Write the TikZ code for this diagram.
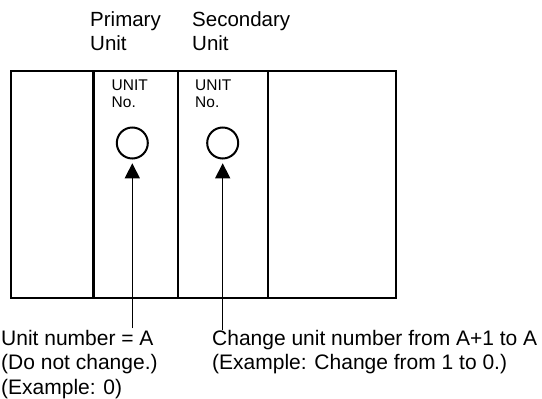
\documentclass[tikz,border=0pt]{standalone}
\usepackage{fontspec}
\setmainfont{Liberation Sans}
\usetikzlibrary{arrows.meta}
\tikzset{
  box/.style={line width=2.2pt},
  divider/.style={line width=2.4pt},
  knob/.style={line width=2pt},
  pointer/.style={line width=1.5pt,-{Triangle[length=15pt,width=15pt]}},
  biglabel/.style={inner sep=0pt,anchor=base west,font=\fontsize{20.5}{24}\selectfont},
  smalllabel/.style={inner sep=0pt,anchor=base west,font=\fontsize{15.5}{17}\selectfont},
  notelabel/.style={inner sep=0pt,anchor=base west,font=\fontsize{21}{24}\selectfont},
}
\begin{document}
\begin{tikzpicture}[x=1pt,y=-1pt]
\useasboundingbox (0,0) rectangle (542,399);
% top labels
\node[biglabel] (p1) at (90,26.7) {Primary};
\node[biglabel] (p2) at (90,50.7) {Unit};
\node[biglabel] (s1) at (192,26.7) {Secondary};
\node[biglabel] (s2) at (192,50.7) {Unit};
% rack
\draw[box] (11.3,71.3) rectangle (396,298);
\draw[divider] (93.5,71.3) -- (93.5,298);
\draw[divider] (178,71.3) -- (178,298);
\draw[divider] (267.7,71.3) -- (267.7,298);
% unit no labels
\node[smalllabel] (u1) at (111.5,90.7) {UNIT};
\node[smalllabel] (n1) at (111.5,107.7) {No.};
\node[smalllabel] (u2) at (195,90.7) {UNIT};
\node[smalllabel] (n2) at (195,107.7) {No.};
% rotary switches
\node[knob,draw,circle,minimum size=31pt,inner sep=0pt] (c1) at (132.3,143) {};
\node[knob,draw,circle,minimum size=31pt,inner sep=0pt] (c2) at (222.7,143) {};
% pointers
\coordinate (t1) at (132.3,163.3);
\coordinate (t2) at (222.7,163.3);
\coordinate (b1) at (132.3,328.3);
\coordinate (b2) at (222.7,330);
\draw[pointer] (b1) -- (t1);
\draw[pointer] (b2) -- (t2);
% notes
\node[notelabel] (l1) at (1,345) {Unit number = A};
\node[notelabel] (l2) at (1,369.5) {(Do not change.)};
\node[notelabel] (l3) at (1,394) {(Example: 0)};
\node[notelabel] (r1) at (212,345) {Change unit number from A+1 to A};
\node[notelabel] (r2) at (212,369.5) {(Example: Change from 1 to 0.)};
\end{tikzpicture}
\end{document}
